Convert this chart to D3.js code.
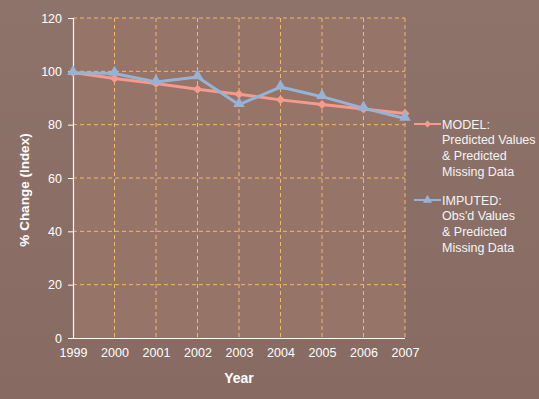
<!DOCTYPE html>
<html>
<head>
<meta charset="utf-8">
<script src="https://cdn.jsdelivr.net/npm/d3@7"></script>
<style>
  html, body { margin: 0; padding: 0; }
  body { width: 539px; height: 399px; overflow: hidden; }
  text { font-family: Arial, "Liberation Sans", sans-serif; }
</style>
</head>
<body>
<div id="chart"></div>
<script>
const years = [1999, 2000, 2001, 2002, 2003, 2004, 2005, 2006, 2007];
const modelValues = [99.6, 97.3, 95.4, 93.3, 91.4, 89.3, 87.6, 85.9, 84.2];
const imputedValues = [99.5, 99.2, 96.0, 97.9, 87.5, 94.1, 90.5, 86.2, 82.3];
const yTicks = [0, 20, 40, 60, 80, 100, 120];
const legendModel = ["MODEL:", "Predicted Values", "& Predicted", "Missing Data"];
const legendImputed = ["IMPUTED:", "Obs'd Values", "& Predicted", "Missing Data"];

const width = 539, height = 399;
const margin = { top: 18, right: 134, bottom: 61, left: 73 };
const innerW = width - margin.left - margin.right;
const innerH = height - margin.top - margin.bottom;

const svg = d3.select("#chart").append("svg")
  .attr("width", width)
  .attr("height", height);

// background, a little lighter at the top
const defs = svg.append("defs");
const grad = defs.append("linearGradient").attr("id", "bg")
  .attr("x1", 0).attr("y1", 0).attr("x2", 0).attr("y2", 1);
grad.append("stop").attr("offset", "0%").attr("stop-color", "#8e736a");
grad.append("stop").attr("offset", "100%").attr("stop-color", "#876b62");

svg.append("rect").attr("width", width).attr("height", height).attr("fill", "url(#bg)");

const x = d3.scalePoint().domain(years).range([0, innerW]);
const y = d3.scaleLinear().domain([0, 120]).range([innerH, 0]);

const g = svg.append("g").attr("transform", `translate(${margin.left},${margin.top})`);

g.append("rect").attr("width", innerW).attr("height", innerH).attr("fill", "#967468");

// grid
const gridColor = "#f3b76e";
g.append("g").selectAll("line").data(yTicks.filter(d => d > 0)).join("line")
  .attr("x1", 0).attr("x2", innerW)
  .attr("y1", d => y(d)).attr("y2", d => y(d))
  .attr("stroke", gridColor).attr("stroke-width", 1).attr("stroke-dasharray", "4,3");
g.append("g").selectAll("line").data(years.slice(1)).join("line")
  .attr("x1", d => x(d)).attr("x2", d => x(d))
  .attr("y1", 0).attr("y2", innerH)
  .attr("stroke", gridColor).attr("stroke-width", 1).attr("stroke-dasharray", "4,3");

// axes
const yAxis = g.append("g")
  .call(d3.axisLeft(y).tickValues(yTicks).tickSize(5).tickPadding(6));
const xAxis = g.append("g")
  .attr("transform", `translate(0,${innerH})`)
  .call(d3.axisBottom(x).tickSize(0).tickPadding(10));
[yAxis, xAxis].forEach(a => {
  a.select(".domain").attr("stroke", "#ffffff").attr("stroke-width", 1.2);
  a.selectAll(".tick line").attr("stroke", "#ffffff");
  a.selectAll("text").attr("fill", "#ffffff").attr("font-size", 12.5)
    .attr("font-family", "Arial, 'Liberation Sans', sans-serif");
});
xAxis.select(".domain").attr("d", `M0,0.5H${innerW}`);

// axis titles
svg.append("text")
  .attr("x", margin.left + innerW / 2).attr("y", 383)
  .attr("text-anchor", "middle").attr("fill", "#ffffff")
  .attr("font-weight", "bold").attr("font-size", 14)
  .text("Year");
svg.append("text")
  .attr("transform", `translate(29,190) rotate(-90)`)
  .attr("text-anchor", "middle").attr("fill", "#ffffff")
  .attr("font-weight", "bold").attr("font-size", 13.5)
  .text("% Change (Index)");

// series
const modelColor = "#f59a8c";
const imputedColor = "#95b3d7";

const line = d3.line().x((d, i) => x(years[i])).y(d => y(d));

// excel style diamond: a square turned 45 degrees
const diamondPath = r => `M0,${-r}L${r},0L0,${r}L${-r},0Z`;
const triangle = d3.symbol().type(d3.symbolTriangle).size(58);

g.append("path").datum(modelValues)
  .attr("d", line).attr("fill", "none")
  .attr("stroke", modelColor).attr("stroke-width", 3).attr("stroke-linejoin", "round");
g.append("g").selectAll("path").data(modelValues).join("path")
  .attr("d", diamondPath(4.5))
  .attr("transform", (d, i) => `translate(${x(years[i])},${y(d)})`)
  .attr("fill", modelColor);

g.append("path").datum(imputedValues)
  .attr("d", line).attr("fill", "none")
  .attr("stroke", imputedColor).attr("stroke-width", 3).attr("stroke-linejoin", "round");
g.append("g").selectAll("path").data(imputedValues).join("path")
  .attr("d", triangle)
  .attr("transform", (d, i) => `translate(${x(years[i])},${y(d) - 1})`)
  .attr("fill", imputedColor);

// legend
const legend = svg.append("g");
const entries = [
  { lines: legendModel, color: modelColor, sym: diamondPath(3.5), y0: 124 },
  { lines: legendImputed, color: imputedColor, sym: d3.symbol().type(d3.symbolTriangle).size(36)(), y0: 200 }
];
entries.forEach(e => {
  legend.append("line")
    .attr("x1", 414).attr("x2", 441).attr("y1", e.y0).attr("y2", e.y0)
    .attr("stroke", e.color).attr("stroke-width", 2);
  legend.append("path").attr("d", e.sym)
    .attr("transform", `translate(427.5,${e.y0})`).attr("fill", e.color);
  legend.append("g").selectAll("text").data(e.lines).join("text")
    .attr("x", 442).attr("y", (d, i) => e.y0 + 4.5 + i * 15.7)
    .attr("fill", "#f4f4f4").attr("font-size", 12.5)
    .attr("font-family", "'Open Sans', Lato, sans-serif")
    .text(d => d);
});
</script>
</body>
</html>
